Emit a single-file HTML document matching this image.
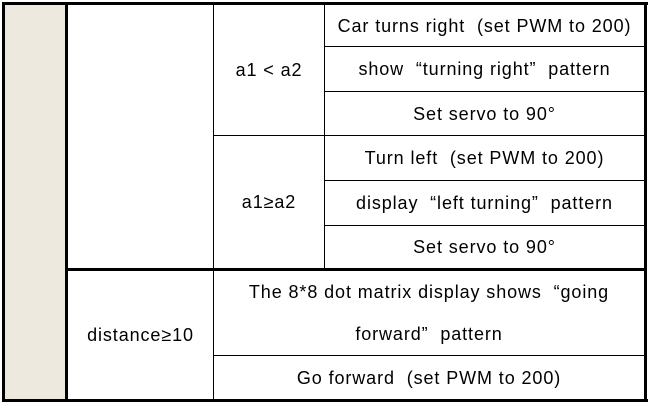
<!DOCTYPE html>
<html><head><meta charset="utf-8"><style>
body{margin:0;width:651px;height:405px;background:#fff;position:relative;overflow:hidden;font-family:"Liberation Sans","Noto Sans CJK SC",sans-serif;font-size:18px;letter-spacing:0.9px;color:#000}
.l{position:absolute;background:#000}
.t{position:absolute;display:flex;align-items:center;justify-content:center;text-align:center;line-height:32px;white-space:nowrap}
</style></head><body>
<div style="position:absolute;left:5px;top:5px;width:60px;height:394px;background:#ede9df"></div>
<div class="l" style="left:2px;top:2px;width:646px;height:3px"></div>
<div class="l" style="left:2px;top:399px;width:646px;height:3px"></div>
<div class="l" style="left:2px;top:2px;width:3px;height:400px"></div>
<div class="l" style="left:644px;top:2px;width:3px;height:400px"></div>
<div class="l" style="left:65px;top:2px;width:3px;height:400px"></div>
<div class="l" style="left:65px;top:268px;width:582px;height:3px"></div>
<div class="l" style="left:213px;top:5px;width:1px;height:394px"></div>
<div class="l" style="left:324px;top:5px;width:1px;height:263px"></div>
<div class="l" style="left:324px;top:46px;width:320px;height:1px"></div>
<div class="l" style="left:324px;top:91px;width:320px;height:1px"></div>
<div class="l" style="left:213px;top:135px;width:431px;height:1px"></div>
<div class="l" style="left:324px;top:180px;width:320px;height:1px"></div>
<div class="l" style="left:324px;top:225px;width:320px;height:1px"></div>
<div class="l" style="left:213px;top:355px;width:431px;height:1px"></div>
<div class="t" style="left:214px;top:5px;width:110px;height:130px">a1 &lt; a2</div>
<div class="t" style="left:214px;top:136px;width:110px;height:132px">a1≥a2</div>
<div class="t" style="left:325px;top:5px;width:319px;height:41px">Car turns right&nbsp;&nbsp;(set PWM to 200)</div>
<div class="t" style="left:325px;top:47px;width:319px;height:44px">show&nbsp;&nbsp;“turning right”&nbsp;&nbsp;pattern</div>
<div class="t" style="left:325px;top:92px;width:319px;height:43px">Set servo to 90°</div>
<div class="t" style="left:325px;top:136px;width:319px;height:44px">Turn left&nbsp;&nbsp;(set PWM to 200)</div>
<div class="t" style="left:325px;top:181px;width:319px;height:44px">display&nbsp;&nbsp;“left turning”&nbsp;&nbsp;pattern</div>
<div class="t" style="left:325px;top:226px;width:319px;height:42px">Set servo to 90°</div>
<div class="t" style="left:68px;top:271px;width:145px;height:128px">distance≥10</div>
<div class="t" style="left:214px;top:271px;width:430px;height:84px;line-height:42px">The 8*8 dot matrix display shows&nbsp;&nbsp;“going<br>forward”&nbsp;&nbsp;pattern</div>
<div class="t" style="left:214px;top:356px;width:430px;height:43px">Go forward&nbsp;&nbsp;(set PWM to 200)</div>
</body></html>
